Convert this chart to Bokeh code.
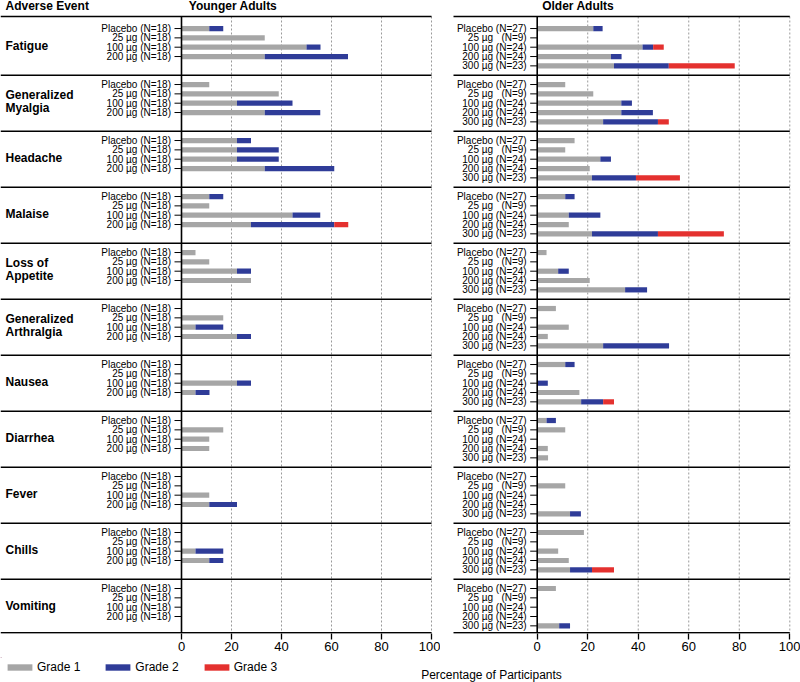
from bokeh.plotting import figure
from bokeh.models import Range1d, FixedTicker, ColumnDataSource, Legend, LegendItem
from bokeh.layouts import column, row
from bokeh.embed import file_html
from bokeh.resources import INLINE
from bokeh.core.properties import value

# ---------------- data ----------------
events = ["Fatigue", "Generalized\nMyalgia", "Headache", "Malaise", "Loss of\nAppetite",
          "Generalized\nArthralgia", "Nausea", "Diarrhea", "Fever", "Chills", "Vomiting"]

young_groups = ["Placebo (N=18)", "25 µg (N=18)", "100 µg (N=18)", "200 µg (N=18)"]
old_groups = ["Placebo (N=27)", "25 µg\u00a0\u00a0\u00a0(N=9)", "100 µg (N=24)",
              "200 µg (N=24)", "300 µg (N=23)"]

grades = ["Grade 1", "Grade 2", "Grade 3"]
grade_colors = ["#a6a6a6", "#2f3c98", "#e4312f"]

x_ticks = [0, 20, 40, 60, 80, 100]

# percentages per event (rows) and dose group (columns)
young_g1 = [[11.1, 33.3, 50.0, 33.3], [11.1, 38.9, 22.2, 33.3], [22.2, 22.2, 22.2, 33.3],
            [11.1, 11.1, 44.4, 27.8], [5.6, 11.1, 22.2, 27.8], [0, 16.7, 5.6, 22.2],
            [0, 0, 22.2, 5.6], [0, 16.7, 11.1, 11.1], [0, 0, 11.1, 11.1],
            [0, 0, 5.6, 11.1], [0, 0, 0, 0]]
young_g2 = [[5.6, 0, 5.6, 33.3], [0, 0, 22.2, 22.2], [5.6, 16.7, 16.7, 27.8],
            [5.6, 0, 11.1, 33.3], [0, 0, 5.6, 0], [0, 0, 11.1, 5.6],
            [0, 0, 5.6, 5.6], [0, 0, 0, 0], [0, 0, 0, 11.1],
            [0, 0, 11.1, 5.6], [0, 0, 0, 0]]
young_g3 = [[0, 0, 0, 0], [0, 0, 0, 0], [0, 0, 0, 0], [0, 0, 0, 5.6], [0, 0, 0, 0],
            [0, 0, 0, 0], [0, 0, 0, 0], [0, 0, 0, 0], [0, 0, 0, 0], [0, 0, 0, 0], [0, 0, 0, 0]]

old_g1 = [[22.2, 0, 41.7, 29.2, 30.4], [11.1, 22.2, 33.3, 33.3, 26.1], [14.8, 11.1, 25.0, 20.8, 21.7],
          [11.1, 0, 12.5, 12.5, 21.7], [3.7, 0, 8.3, 20.8, 34.8], [7.4, 0, 12.5, 4.2, 26.1],
          [11.1, 0, 0, 16.7, 17.4], [3.7, 11.1, 0, 4.2, 4.3], [0, 11.1, 0, 0, 13.0],
          [18.5, 0, 8.3, 12.5, 13.0], [7.4, 0, 0, 0, 8.7]]
old_g2 = [[3.7, 0, 4.2, 4.2, 21.7], [0, 0, 4.2, 12.5, 21.7], [0, 0, 4.2, 0, 17.4],
          [3.7, 0, 12.5, 0, 26.1], [0, 0, 4.2, 0, 8.7], [0, 0, 0, 0, 26.1],
          [3.7, 0, 4.2, 0, 8.7], [3.7, 0, 0, 0, 0], [0, 0, 0, 0, 4.3],
          [0, 0, 0, 0, 8.7], [0, 0, 0, 0, 4.3]]
old_g3 = [[0, 0, 4.2, 0, 26.1], [0, 0, 0, 0, 4.3], [0, 0, 0, 0, 17.4], [0, 0, 0, 0, 26.1],
          [0, 0, 0, 0, 0], [0, 0, 0, 0, 0], [0, 0, 0, 0, 4.3], [0, 0, 0, 0, 0],
          [0, 0, 0, 0, 0], [0, 0, 0, 0, 8.7], [0, 0, 0, 0, 0]]

# ---------------- layout constants ----------------
FONT = "Liberation Sans"
N_EV = len(events)
SLOTS = 6
FRAME_H = 633
FIG_H = 657
SLOT_PX = 9.333
ORIGIN_PX = 18.7           # pixel position of slot 0 below frame top
TOP_LINE = -0.29           # header rule
BOTTOM_LINE = 65.75        # last rule
y_top = -ORIGIN_PX / SLOT_PX
y_bottom = (FRAME_H - ORIGIN_PX) / SLOT_PX
y_range = Range1d(y_bottom, y_top)


def make_panel(width, zero_px, px_per, groups, g1, g2, g3, title, title_dx,
               sep_start_px, show_events):
    x0 = -zero_px / px_per
    x1 = (width - zero_px) / px_per
    p = figure(width=width, height=FIG_H, x_range=Range1d(x0, x1), y_range=y_range,
               output_backend="svg", toolbar_location=None,
               min_border_left=0, min_border_right=0, min_border_top=0, min_border_bottom=24)
    p.outline_line_color = None
    p.background_fill_color = "white"
    p.border_fill_color = "white"
    p.yaxis.visible = False
    p.xgrid.visible = False
    p.ygrid.visible = False

    n = len(groups)
    ys, l1, r1, l2, r2, l3, r3, labels = [], [], [], [], [], [], [], []
    for i in range(N_EV):
        for j in range(n):
            y = SLOTS * i + 1 + j
            a, b, c = g1[i][j], g2[i][j], g3[i][j]
            ys.append(y)
            l1.append(0); r1.append(a)
            l2.append(a); r2.append(a + b)
            l3.append(a + b); r3.append(a + b + c)
            labels.append(groups[j])
    src = ColumnDataSource(dict(y=ys, l1=l1, r1=r1, l2=l2, r2=r2, l3=l3, r3=r3, lab=labels))

    # dotted grid
    gx = [t for t in x_ticks if t > 0]
    p.segment(x0=gx, x1=gx, y0=[TOP_LINE] * len(gx), y1=[BOTTOM_LINE] * len(gx),
              line_color="#9a9a9a", line_width=1, line_dash="2 2")

    bh = 5.2 / SLOT_PX
    for (lk, rk), col in zip([("l1", "r1"), ("l2", "r2"), ("l3", "r3")], grade_colors):
        p.hbar(y="y", left=lk, right=rk, height=bh, source=src,
               fill_color=col, line_color=None)

    # panel separators
    seps = [TOP_LINE] + [SLOTS * i for i in range(1, N_EV)] + [BOTTOM_LINE]
    sx = (sep_start_px - zero_px) / px_per
    p.segment(x0=[sx] * len(seps), x1=[100] * len(seps), y0=seps, y1=seps,
              line_color="black", line_width=1.6)
    # zero axis
    p.segment(x0=[0], x1=[0], y0=[TOP_LINE], y1=[BOTTOM_LINE], line_color="black",
              line_width=1.6)

    # row tick marks and labels
    tick = 7 / px_per
    p.segment(x0=[-tick] * len(ys), x1=[0] * len(ys), y0=ys, y1=ys,
              line_color="black", line_width=1)
    p.text(x=-10.5 / px_per, y="y", text="lab", source=src, text_align="right",
           text_baseline="middle", text_font=value(FONT), text_font_size="10px",
           text_color="black")

    head_y = y_top + 5.6 / SLOT_PX
    if show_events:
        p.text(x=[x0 + 5 / px_per] * N_EV, y=[SLOTS * i + 2.83 for i in range(N_EV)],
               text=events, text_align="left", text_baseline="middle",
               text_font=value(FONT), text_font_size="12px", text_font_style="bold",
               text_color="black", text_line_height=0.95)
        p.text(x=[x0 + 5 / px_per], y=[head_y], text=["Adverse Event"],
               text_align="left", text_baseline="middle", text_font=value(FONT),
               text_font_size="12px", text_font_style="bold", text_color="black")

    p.text(x=[title_dx / px_per], y=[head_y], text=[title],
           text_align="left", text_baseline="middle", text_font=value(FONT),
           text_font_size="12px", text_font_style="bold", text_color="black")

    ax = p.xaxis[0]
    ax.ticker = FixedTicker(ticks=x_ticks)
    ax.axis_line_color = None
    ax.major_tick_out = 6
    ax.major_tick_in = 0
    ax.major_tick_line_color = "black"
    ax.major_tick_line_width = 1.3
    ax.minor_tick_line_color = None
    ax.major_label_standoff = 2
    ax.major_label_text_font = FONT
    ax.major_label_text_font_size = "13px"
    ax.major_label_text_color = "black"
    return p


pL = make_panel(440, 181, 2.5, young_groups, young_g1, young_g2, young_g3,
                "Younger Adults", 7.3, 0, True)
pR = make_panel(360, 96.7, 2.526, old_groups, old_g1, old_g2, old_g3,
                "Older Adults", 5.0, 13, False)

# bottom strip: legend + axis title
B_H = 25
pB = figure(width=800, height=B_H, x_range=Range1d(0, 800), y_range=Range1d(B_H, 0),
            output_backend="svg", toolbar_location=None,
            min_border_left=0, min_border_right=0, min_border_top=0, min_border_bottom=0)
pB.outline_line_color = None
pB.axis.visible = False
pB.grid.visible = False
items = []
for g, c in zip(grades, grade_colors):
    # legend proxies, placed outside the visible range
    r = pB.hbar(y=[-50], left=[0], right=[1], height=1, fill_color=c, line_color=None)
    items.append(LegendItem(label=g, renderers=[r]))
legend = Legend(items=items, orientation="horizontal", location=(4, 8),
                glyph_width=31, glyph_height=8, label_standoff=2, spacing=22,
                padding=0, margin=0, border_line_color=None, background_fill_alpha=0,
                label_text_font=FONT, label_text_font_size="12px", label_height=8,
                label_text_color="black")
pB.add_layout(legend, "center")
pB.text(x=[491], y=[17.5], text=["Percentage of Participants"], text_align="center",
        text_baseline="middle", text_font=value(FONT), text_font_size="12px",
        text_color="black")

layout = column(row(pL, pR), pB)
open("out.html", "w").write(file_html(layout, INLINE))
